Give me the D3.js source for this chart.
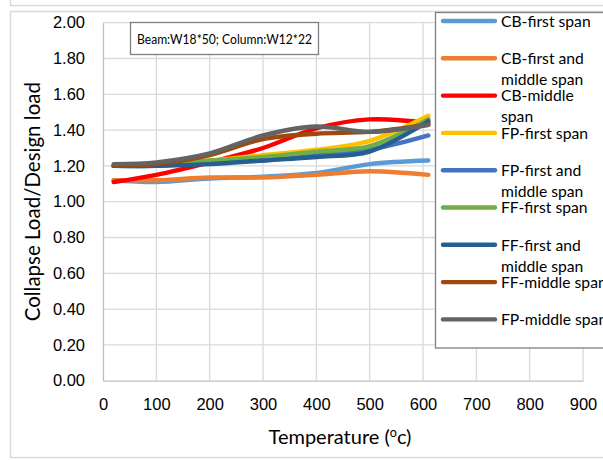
<!DOCTYPE html>
<html>
<head>
<meta charset="utf-8">
<script src="https://cdn.jsdelivr.net/npm/d3@7/dist/d3.min.js"></script>
<style>
  body { margin: 0; background: #fff; }
  svg { display: block; font-family: Lato, "Liberation Sans", sans-serif; }
</style>
</head>
<body>
<svg id="chart" width="603" height="460"></svg>
<script>
// Temperatures (°C) at which the collapse ratio was computed
const temperatures = [20, 100, 200, 300, 400, 500, 610];

// Collapse load / design load for each fire scenario
const cbFirst        = [1.12, 1.11, 1.13, 1.14, 1.16, 1.21, 1.23];
const cbFirstMiddle  = [1.12, 1.12, 1.135, 1.135, 1.15, 1.17, 1.15];
const cbMiddle       = [1.11, 1.15, 1.22, 1.30, 1.41, 1.46, 1.44];
const fpFirst        = [1.20, 1.21, 1.23, 1.26, 1.29, 1.34, 1.48];
const fpFirstMiddle  = [1.20, 1.20, 1.22, 1.23, 1.26, 1.29, 1.37];
const ffFirst        = [1.20, 1.21, 1.23, 1.25, 1.28, 1.31, 1.46];
const ffFirstMiddle  = [1.20, 1.20, 1.21, 1.23, 1.25, 1.28, 1.45];
const ffMiddle       = [1.20, 1.21, 1.26, 1.35, 1.38, 1.39, 1.43];
const fpMiddle       = [1.21, 1.22, 1.27, 1.37, 1.42, 1.39, 1.43];

const seriesNames = ["CB-first span", "CB-first and middle span", "CB-middle span",
  "FP-first span", "FP-first and middle span", "FF-first span",
  "FF-first and middle span", "FF-middle span", "FP-middle span"];
const seriesValues = [cbFirst, cbFirstMiddle, cbMiddle, fpFirst, fpFirstMiddle,
  ffFirst, ffFirstMiddle, ffMiddle, fpMiddle];
const seriesColors = ["#5B9BD5", "#ED7D31", "#FF0000", "#FFC000", "#4472C4",
  "#70AD47", "#255E91", "#9E480E", "#636363"];
// Legend text as it wraps inside the legend box
const legendLines = [["CB-first span"], ["CB-first and", "middle span"], ["CB-middle", "span"],
  ["FP-first span"], ["FP-first and", "middle span"], ["FF-first span"],
  ["FF-first and", "middle span"], ["FF-middle span"], ["FP-middle span"]];

const xTicks = [0, 100, 200, 300, 400, 500, 600, 700, 800, 900];
const yTicks = [0, 0.2, 0.4, 0.6, 0.8, 1.0, 1.2, 1.4, 1.6, 1.8, 2.0];
const note = "Beam:W18*50; Column:W12*22";

const svg = d3.select("#chart");

// Outer frames (bottom edge of the panel above, then this chart's frame)
svg.append("rect").attr("x", 10.5).attr("y", -20).attr("width", 640).attr("height", 25.5)
  .attr("fill", "none").attr("stroke", "#d9d9d9").attr("stroke-width", 1.5);
svg.append("rect").attr("x", 10.5).attr("y", 11.5).attr("width", 640).attr("height", 446)
  .attr("fill", "none").attr("stroke", "#d9d9d9").attr("stroke-width", 1.5);

const plot = { left: 103, right: 583, top: 22.7, bottom: 380.7 };
const x = d3.scaleLinear().domain([0, 900]).range([plot.left, plot.right]);
const y = d3.scaleLinear().domain([0, 2]).range([plot.bottom, plot.top]);

// Gridlines
const grid = svg.append("g");
grid.selectAll("line.h").data(yTicks.slice(1)).join("line")
  .attr("x1", plot.left).attr("x2", plot.right)
  .attr("y1", d => y(d)).attr("y2", d => y(d))
  .attr("stroke", "#d9d9d9").attr("stroke-width", 1.3);
grid.selectAll("line.v").data(xTicks.slice(1)).join("line")
  .attr("y1", plot.top).attr("y2", plot.bottom)
  .attr("x1", d => x(d)).attr("x2", d => x(d))
  .attr("stroke", "#d9d9d9").attr("stroke-width", 1.3);

// Axes
const yAxis = d3.axisLeft(y).tickValues(yTicks).tickSize(0).tickPadding(18)
  .tickFormat(d3.format(".2f"));
const gy = svg.append("g").attr("transform", `translate(${plot.left},0)`).call(yAxis);
gy.select(".domain").attr("stroke", "#bfbfbf").attr("stroke-width", 1.3);
gy.selectAll("text").attr("font-size", 16.5).attr("fill", "#000");

const xAxis = d3.axisBottom(x).tickValues(xTicks).tickSize(0).tickPadding(18);
const gx = svg.append("g").attr("transform", `translate(0,${plot.bottom})`).call(xAxis);
gx.select(".domain").attr("stroke", "#bfbfbf").attr("stroke-width", 1.3);
gx.selectAll("text").attr("font-size", 16.5).attr("fill", "#000");

// Axis titles
svg.append("text")
  .attr("transform", `translate(40,${(plot.top + plot.bottom) / 2}) rotate(-90)`)
  .attr("text-anchor", "middle").attr("font-size", 20.5).attr("fill", "#000")
  .text("Collapse Load/Design load");
const xt = svg.append("text").attr("x", (plot.left + plot.right) / 2 - 3).attr("y", 444)
  .attr("text-anchor", "middle").attr("font-size", 20).attr("fill", "#000");
xt.append("tspan").text("Temperature (");
xt.append("tspan").attr("font-size", 12.5).attr("dy", -7).text("o");
xt.append("tspan").attr("dy", 7).text("c)");

// Series lines, smoothed
const line = d3.line()
  .x((d, i) => x(temperatures[i]))
  .y(d => y(d))
  .curve(d3.curveCatmullRom.alpha(0.5));
svg.append("g").selectAll("path").data(seriesValues).join("path")
  .attr("d", line)
  .attr("fill", "none")
  .attr("stroke", (d, i) => seriesColors[i])
  .attr("stroke-width", 4.4)
  .attr("stroke-linecap", "round")
  .attr("stroke-linejoin", "round");

// Annotation box
svg.append("rect").attr("x", 130.5).attr("y", 22.5).attr("width", 188).attr("height", 32)
  .attr("fill", "#fff").attr("stroke", "#7f7f7f").attr("stroke-width", 1.3);
svg.append("text").attr("x", 224.5).attr("y", 44).attr("text-anchor", "middle")
  .attr("font-size", 14.2).attr("textLength", 175).attr("lengthAdjust", "spacingAndGlyphs")
  .attr("fill", "#000").text(note);

// Legend
const legend = svg.append("g");
legend.append("rect").attr("x", 435.5).attr("y", 12.5).attr("width", 200).attr("height", 335.5)
  .attr("fill", "#fff").attr("stroke", "#7f7f7f").attr("stroke-width", 1.3);
const items = legend.selectAll("g.item").data(seriesNames).join("g")
  .attr("transform", (d, i) => `translate(0,${21 + i * 37.3})`);
items.append("line").attr("x1", 443).attr("x2", 495).attr("y1", 0).attr("y2", 0)
  .attr("stroke", (d, i) => seriesColors[i]).attr("stroke-width", 4.4)
  .attr("stroke-linecap", "round");
items.each(function (d, i) {
  const t = d3.select(this).append("text").attr("x", 501).attr("y", 5.8)
    .attr("font-size", 15.7).attr("fill", "#000");
  legendLines[i].forEach((s, k) => {
    t.append("tspan").attr("x", 501).attr("dy", k === 0 ? 0 : 21).text(s);
  });
});
</script>
</body>
</html>
